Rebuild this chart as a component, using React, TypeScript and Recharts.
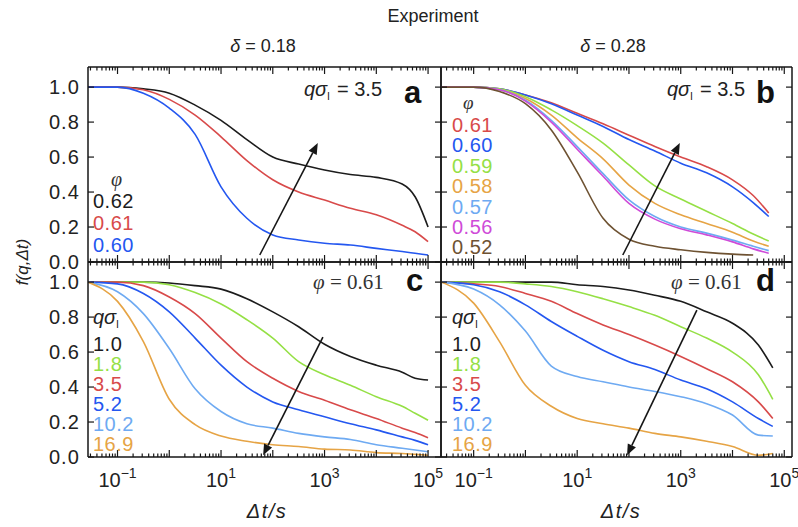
import React from 'react';
import { LineChart, Line, XAxis, YAxis, ReferenceLine } from 'recharts';

const FONT = "'Liberation Sans', Arial, Helvetica, sans-serif";
const SERIF = "'Liberation Serif', 'Times New Roman', serif";
const INK = '#161616';

const BLACK = '#1c1c1c';
const RED = '#d84a4a';
const BLUE = '#2457f0';
const GREEN = '#95e045';
const ORANGE = '#e6a445';
const LTBLUE = '#6eaaf2';
const MAGENTA = '#cf4bd8';
const BROWN = '#6e5232';

// lag times (s) sampled for each panel
const timesA = [0.027, 0.1, 0.316, 1, 3.16, 10, 31.6, 100, 316, 1000, 3160, 10000, 31600, 56200, 100000];
const timesB = [0.024, 0.1, 0.316, 1, 3.16, 10, 31.6, 100, 316, 1000, 3160, 10000, 25100, 50100];
const timesC = [0.027, 0.1, 0.316, 1, 3.16, 10, 31.6, 100, 316, 1000, 3160, 10000, 31600, 56200, 100000];
const timesD = [0.024, 0.1, 0.316, 1, 3.16, 10, 31.6, 100, 316, 1000, 3160, 10000, 31600, 60000];

// a: delta = 0.18, q*sigma = 3.5, varying phi
const phiA = ['0.62', '0.61', '0.60'];
const fA062 = [1.0, 1.0, 0.99, 0.965, 0.897, 0.81, 0.70, 0.60, 0.56, 0.526, 0.50, 0.484, 0.446, 0.373, 0.2];
const fA061 = [1.0, 1.0, 0.985, 0.93, 0.84, 0.716, 0.58, 0.47, 0.40, 0.354, 0.307, 0.27, 0.21, 0.173, 0.116];
const fA060 = [1.0, 1.0, 0.965, 0.88, 0.73, 0.43, 0.25, 0.155, 0.126, 0.107, 0.097, 0.078, 0.06, 0.05, 0.04];

// b: delta = 0.28, q*sigma = 3.5, varying phi
const phiB = ['0.61', '0.60', '0.59', '0.58', '0.57', '0.56', '0.52'];
const fB061 = [1.0, 1.0, 0.99, 0.955, 0.91, 0.85, 0.79, 0.725, 0.66, 0.60, 0.545, 0.47, 0.38, 0.28];
const fB060 = [1.0, 1.0, 0.99, 0.955, 0.905, 0.84, 0.775, 0.70, 0.635, 0.565, 0.51, 0.43, 0.34, 0.26];
const fB059 = [1.0, 1.0, 0.99, 0.945, 0.87, 0.78, 0.68, 0.555, 0.435, 0.36, 0.29, 0.22, 0.16, 0.12];
const fB058 = [1.0, 1.0, 0.985, 0.935, 0.84, 0.71, 0.59, 0.44, 0.335, 0.27, 0.22, 0.17, 0.12, 0.09];
const fB057 = [1.0, 1.0, 0.985, 0.925, 0.81, 0.66, 0.505, 0.355, 0.26, 0.20, 0.165, 0.125, 0.09, 0.065];
const fB056 = [1.0, 1.0, 0.985, 0.92, 0.80, 0.645, 0.49, 0.335, 0.245, 0.19, 0.155, 0.115, 0.075, 0.05];
const fB052 = [1.0, 1.0, 0.975, 0.905, 0.755, 0.515, 0.25, 0.13, 0.09, 0.07, 0.055, 0.045, 0.04, null];

// c: delta = 0.18, phi = 0.61, varying q*sigma
const qC = ['1.0', '1.8', '3.5', '5.2', '10.2', '16.9'];
const fC10 = [1.0, 1.0, 1.0, 0.995, 0.98, 0.96, 0.905, 0.83, 0.745, 0.645, 0.575, 0.525, 0.485, 0.45, 0.44];
const fC18 = [1.0, 1.0, 1.0, 0.985, 0.94, 0.875, 0.785, 0.68, 0.545, 0.47, 0.41, 0.345, 0.29, 0.25, 0.21];
const fC35 = [1.0, 1.0, 0.98, 0.915, 0.82, 0.68, 0.545, 0.45, 0.375, 0.325, 0.27, 0.22, 0.165, 0.14, 0.11];
const fC52 = [1.0, 0.99, 0.935, 0.83, 0.68, 0.525, 0.40, 0.315, 0.27, 0.23, 0.19, 0.155, 0.115, 0.095, 0.07];
const fC102 = [1.0, 0.945, 0.82, 0.62, 0.39, 0.26, 0.19, 0.165, 0.135, 0.115, 0.10, 0.07, 0.05, 0.04, 0.03];
const fC169 = [1.0, 0.89, 0.66, 0.33, 0.185, 0.12, 0.09, 0.07, 0.06, 0.045, 0.04, 0.025, 0.02, 0.015, 0.01];

// d: delta = 0.28, phi = 0.61, varying q*sigma
const qD = ['1.0', '1.8', '3.5', '5.2', '10.2', '16.9'];
const fD10 = [1.0, 1.0, 1.0, 1.0, 1.0, 0.985, 0.975, 0.955, 0.925, 0.89, 0.83, 0.765, 0.64, 0.51];
const fD18 = [1.0, 1.0, 1.0, 0.99, 0.975, 0.945, 0.905, 0.86, 0.81, 0.745, 0.68, 0.60, 0.47, 0.33];
const fD35 = [1.0, 0.99, 0.975, 0.935, 0.89, 0.82, 0.755, 0.70, 0.64, 0.575, 0.505, 0.43, 0.315, 0.22];
const fD52 = [1.0, 0.985, 0.945, 0.87, 0.775, 0.69, 0.61, 0.545, 0.50, 0.44, 0.39, 0.315, 0.22, 0.175];
const fD102 = [1.0, 0.96, 0.87, 0.72, 0.52, 0.46, 0.43, 0.40, 0.375, 0.345, 0.305, 0.24, 0.125, 0.12];
const fD169 = [1.0, 0.88, 0.66, 0.41, 0.29, 0.22, 0.19, 0.165, 0.135, 0.115, 0.09, 0.06, 0.01, 0.02];

const labeledExp = [-1, 1, 3, 5];
const yTicks = [0, 0.2, 0.4, 0.6, 0.8, 1.0];
const Y_MAX = 1.115;
const PLOT_H = 195;

const domainLeft: [number, number] = [0.0269, 177800];
const domainRight: [number, number] = [0.0234, 141000];

function logTicks(lo: number, hi: number) {
  const out: number[] = [];
  for (let e = -2; e <= 5; e++) {
    for (let k = 1; k <= 9; k++) {
      const v = k * Math.pow(10, e);
      if (v >= lo && v <= hi) out.push(v);
    }
  }
  return out;
}

const XTick = (props: any) => {
  const { x, y, payload, dir, labels } = props;
  const lg = Math.log10(payload.value);
  const e = Math.round(lg);
  const major = Math.abs(lg - e) < 1e-6;
  const len = major ? 7 : 3.5;
  return (
    <g>
      <line x1={x} y1={y} x2={x} y2={y + dir * len} stroke={INK} strokeWidth={1.2} />
      {labels && major && labeledExp.includes(e) && (
        <text x={x} y={y + 30} textAnchor="middle" fontSize={20} fontFamily={FONT} fill="#222">
          10
          <tspan dy={-9} fontSize={14}>{e < 0 ? '\u2212' + -e : String(e)}</tspan>
        </text>
      )}
    </g>
  );
};

const YTick = (props: any) => {
  const { x, y, payload, dir, labels } = props;
  return (
    <g>
      <line x1={x} y1={y} x2={x + dir * 6} y2={y} stroke={INK} strokeWidth={1.2} />
      {labels && (
        <text x={x - 8} y={y} dy="0.36em" textAnchor="end" fontSize={20} letterSpacing={1.1} fontFamily={FONT} fill="#222">
          {Number(payload.value).toFixed(1)}
        </text>
      )}
    </g>
  );
};

const ArrowShape = (props: any) => {
  const { x1, y1, x2, y2 } = props;
  const ang = Math.atan2(y2 - y1, x2 - x1);
  const hl = 11;
  const hw = 4.5;
  const bx = x2 - hl * Math.cos(ang);
  const by = y2 - hl * Math.sin(ang);
  const px = -Math.sin(ang) * hw;
  const py = Math.cos(ang) * hw;
  return (
    <g>
      <line x1={x1} y1={y1} x2={bx} y2={by} stroke={INK} strokeWidth={1.6} />
      <polygon points={`${x2},${y2} ${bx + px},${by + py} ${bx - px},${by - py}`} fill={INK} />
    </g>
  );
};

const axisStyle = { stroke: INK, strokeWidth: 1.5 };

type PanelProps = {
  left: number;
  top: number;
  plotW: number;
  margin: { top: number; right: number; bottom: number; left: number };
  times: number[];
  series: (number | null)[][];
  colors: string[];
  domain: [number, number];
  yLabels: boolean;
  xLabels: boolean;
  arrow: [{ x: number; y: number }, { x: number; y: number }];
};

// each axis is 1px thick so the plot box sits 1px inside the margins
function Panel({ left, top, plotW, margin, times, series, colors, domain, yLabels, xLabels, arrow }: PanelProps) {
  const data = times.map((t, i) => {
    const row: Record<string, number | null> = { t };
    series.forEach((s, k) => {
      row['s' + k] = s[i];
    });
    return row;
  });
  const ticks = logTicks(domain[0], domain[1]);
  const width = margin.left + plotW + margin.right + 2;
  const height = margin.top + PLOT_H + margin.bottom + 2;
  return (
    <div style={{ position: 'absolute', left, top }}>
      <LineChart width={width} height={height} data={data} margin={margin}>
        <XAxis
          xAxisId="b"
          dataKey="t"
          type="number"
          scale="log"
          domain={domain}
          allowDataOverflow
          ticks={ticks}
          interval={0}
          height={1}
          tickSize={0}
          tickMargin={0}
          tickLine={false}
          axisLine={axisStyle}
          tick={(p: any) => <XTick {...p} dir={-1} labels={xLabels} />}
        />
        <XAxis
          xAxisId="t"
          orientation="top"
          dataKey="t"
          type="number"
          scale="log"
          domain={domain}
          allowDataOverflow
          ticks={ticks}
          interval={0}
          height={1}
          tickSize={0}
          tickMargin={0}
          tickLine={false}
          axisLine={axisStyle}
          tick={(p: any) => <XTick {...p} dir={1} labels={false} />}
        />
        <YAxis
          yAxisId="l"
          type="number"
          domain={[0, Y_MAX]}
          allowDataOverflow
          ticks={yTicks}
          interval={0}
          width={1}
          tickSize={0}
          tickMargin={0}
          tickLine={false}
          axisLine={axisStyle}
          tick={(p: any) => <YTick {...p} dir={1} labels={yLabels} />}
        />
        <YAxis
          yAxisId="r"
          orientation="right"
          type="number"
          domain={[0, Y_MAX]}
          allowDataOverflow
          ticks={yTicks}
          interval={0}
          width={1}
          tickSize={0}
          tickMargin={0}
          tickLine={false}
          axisLine={axisStyle}
          tick={(p: any) => <YTick {...p} dir={-1} labels={false} />}
        />
        {series.map((_, k) => (
          <Line
            key={k}
            xAxisId="b"
            yAxisId="l"
            dataKey={'s' + k}
            type="monotone"
            stroke={colors[k]}
            strokeWidth={1.6}
            dot={false}
            isAnimationActive={false}
          />
        ))}
        <ReferenceLine xAxisId="b" yAxisId="l" segment={arrow} shape={ArrowShape} />
      </LineChart>
    </div>
  );
}

const legendText = (x: number, y: number, s: string, color: string, key: string) => (
  <text key={key} x={x} y={y} fontSize={20} letterSpacing={0.5} fontFamily={FONT} fill={color}>
    {s}
  </text>
);

const QSigma = ({ x, y }: { x: number; y: number }) => (
  <text x={x} y={y} fontSize={20} fontFamily={FONT} fill="#222">
    <tspan fontStyle="italic">qσ</tspan>
    <tspan fontSize={11} dy={4}>l</tspan>
  </text>
);

export default function App() {
  const colorsA = [BLACK, RED, BLUE];
  const colorsB = [RED, BLUE, GREEN, ORANGE, LTBLUE, MAGENTA, BROWN];
  const colorsQ = [BLACK, GREEN, RED, BLUE, LTBLUE, ORANGE];
  const mL = { top: 9, right: 9, bottom: 9, left: 87 };
  const mR = { top: 9, right: 5, bottom: 9, left: 9 };
  const mLb = { top: 9, right: 9, bottom: 59, left: 87 };
  const mRb = { top: 9, right: 5, bottom: 59, left: 9 };

  return (
    <div style={{ position: 'absolute', left: 0, top: 0, width: 798, height: 527, background: '#fff' }}>
      <Panel left={0} top={57} plotW={353} margin={mL} times={timesA} series={[fA062, fA061, fA060]}
        colors={colorsA} domain={domainLeft} yLabels xLabels={false}
        arrow={[{ x: 56, y: 0.04 }, { x: 740, y: 0.68 }]} />
      <Panel left={431} top={57} plotW={351} margin={mR} times={timesB}
        series={[fB061, fB060, fB059, fB058, fB057, fB056, fB052]}
        colors={colorsB} domain={domainRight} yLabels={false} xLabels={false}
        arrow={[{ x: 76, y: 0.04 }, { x: 960, y: 0.68 }]} />
      <Panel left={0} top={252} plotW={353} margin={mLb} times={timesC}
        series={[fC10, fC18, fC35, fC52, fC102, fC169]}
        colors={colorsQ} domain={domainLeft} yLabels xLabels
        arrow={[{ x: 930, y: 0.686 }, { x: 65, y: 0.01 }]} />
      <Panel left={431} top={252} plotW={351} margin={mRb} times={timesD}
        series={[fD10, fD18, fD35, fD52, fD102, fD169]}
        colors={colorsQ} domain={domainRight} yLabels={false} xLabels
        arrow={[{ x: 2050, y: 0.84 }, { x: 92, y: 0.01 }]} />

      <svg width={798} height={527} style={{ position: 'absolute', left: 0, top: 0, pointerEvents: 'none' }}>
        <text x={433} y={22} textAnchor="middle" fontSize={18} fontFamily={FONT} fill="#222">Experiment</text>
        <text x={263} y={52} textAnchor="middle" fontSize={18} fontFamily={FONT} fill="#222">
          <tspan fontStyle="italic">δ</tspan> = 0.18
        </text>
        <text x={613} y={52} textAnchor="middle" fontSize={18} fontFamily={FONT} fill="#222">
          <tspan fontStyle="italic">δ</tspan> = 0.28
        </text>
        <text x={22} y={262} transform="rotate(-90 22 262)" textAnchor="middle" dy="0.35em" fontSize={17}
          fontFamily={FONT} fontStyle="italic" fill="#222">f(q,Δt)</text>
        <text x={267} y={518} textAnchor="middle" fontSize={20} letterSpacing={1.5} fontFamily={FONT} fontStyle="italic" fill="#222">Δt/s</text>
        <text x={621} y={518} textAnchor="middle" fontSize={20} letterSpacing={1.5} fontFamily={FONT} fontStyle="italic" fill="#222">Δt/s</text>

        {/* panel letters */}
        <text x={404} y={103} fontSize={31} fontWeight="bold" fontFamily={FONT} fill="#111">a</text>
        <text x={756} y={103} fontSize={31} fontWeight="bold" fontFamily={FONT} fill="#111">b</text>
        <text x={406} y={291} fontSize={31} fontWeight="bold" fontFamily={FONT} fill="#111">c</text>
        <text x={756} y={291} fontSize={31} fontWeight="bold" fontFamily={FONT} fill="#111">d</text>

        {/* in-panel annotations */}
        <QSigma x={304} y={96} />
        <text x={337} y={96} fontSize={20} fontFamily={FONT} fill="#222">= 3.5</text>
        <QSigma x={667} y={96} />
        <text x={700} y={96} fontSize={20} fontFamily={FONT} fill="#222">= 3.5</text>
        <text x={313} y={289} fontSize={21} fontFamily={SERIF} fill="#333">
          <tspan fontStyle="italic">φ</tspan> = 0.61
        </text>
        <text x={671} y={289} fontSize={21} fontFamily={SERIF} fill="#333">
          <tspan fontStyle="italic">φ</tspan> = 0.61
        </text>

        {/* legends */}
        <text x={111} y={186} fontSize={20} fontFamily={SERIF} fontStyle="italic" fill="#333">φ</text>
        {phiA.map((s, i) => legendText(93, 208 + i * 22, s, colorsA[i], 'a' + i))}
        <text x={463} y={109} fontSize={19} fontFamily={SERIF} fontStyle="italic" fill="#333">φ</text>
        {phiB.map((s, i) => legendText(452, 132 + i * 20.4, s, colorsB[i], 'b' + i))}
        <QSigma x={93} y={324} />
        {qC.map((s, i) => legendText(93, 351 + i * 20, s, colorsQ[i], 'c' + i))}
        <QSigma x={452} y={324} />
        {qD.map((s, i) => legendText(452, 351 + i * 20, s, colorsQ[i], 'd' + i))}
      </svg>
    </div>
  );
}
